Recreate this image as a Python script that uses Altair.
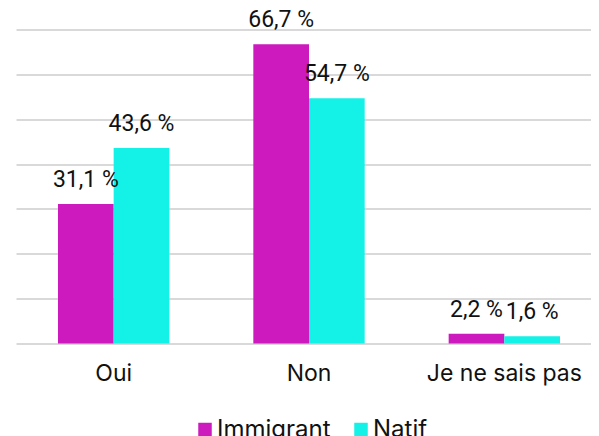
import altair as alt
import pandas as pd

categories = ["Oui", "Non", "Je ne sais pas"]
series = ["Immigrant", "Natif"]
immigrant = [31.1, 66.7, 2.2]
natif = [43.6, 54.7, 1.6]
colors = ["#CC1ABE", "#14F1E7"]

rows = []
for c, a, b in zip(categories, immigrant, natif):
    rows.append({"cat": c, "serie": "Immigrant", "val": a})
    rows.append({"cat": c, "serie": "Natif", "val": b})
df = pd.DataFrame(rows)
df["label"] = df["val"].map(lambda v: f"{v:.1f}".replace(".", ",") + " %")

FONT = "Inter"
FS = 23

x = alt.X("cat:N", sort=categories, title=None,
          scale=alt.Scale(paddingInner=0.43, paddingOuter=0.215),
          axis=alt.Axis(labelAngle=0, domain=False, ticks=False, labelPadding=19,
                        labelFontSize=FS, labelColor="#111111", labelFont=FONT))
y = alt.Y("val:Q", title=None, scale=alt.Scale(domain=[0, 70], nice=False),
          axis=alt.Axis(values=[0, 10, 20, 30, 40, 50, 60, 70], labels=False, ticks=False,
                        domain=False, gridColor="#d9d9d9", gridWidth=2))
xo = alt.XOffset("serie:N", sort=series, scale=alt.Scale(paddingInner=0, paddingOuter=0))

bars = alt.Chart(df).mark_bar().encode(
    x=x, y=y, xOffset=xo,
    color=alt.Color("serie:N", sort=series,
                    scale=alt.Scale(domain=series, range=colors),
                    legend=alt.Legend(title=None, orient="none", direction="horizontal",
                                      legendX=177, legendY=388, symbolType="square",
                                      symbolSize=182, symbolStrokeWidth=0, labelFontSize=24,
                                      labelFont=FONT, labelColor="#111111", labelOffset=0,
                                      columnPadding=18)),
)
labels = alt.Chart(df).mark_text(baseline="alphabetic", dy=-17, fontSize=23, font="Roboto",
                                  color="#111111").encode(
    x=alt.X("cat:N", sort=categories), y="val:Q", xOffset=xo, text="label:N")

chart = (bars + labels).properties(
    width=586, height=314, autosize="none",
    padding={"left": 8, "top": 21.5, "right": -11, "bottom": 92.5}
).configure_view(stroke=None)

chart.save("out.html", embed_options={"renderer": "svg", "actions": False})
